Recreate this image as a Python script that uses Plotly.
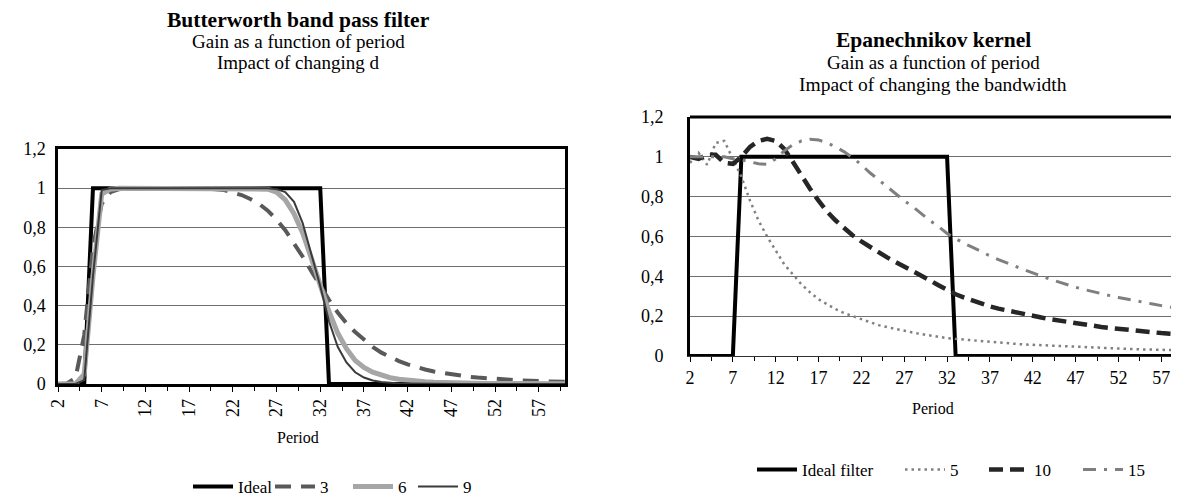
import plotly.graph_objects as go

# ---------------- data ----------------
periods = list(range(2, 61))
tick_periods = [2, 7, 12, 17, 22, 27, 32, 37, 42, 47, 52, 57]
y_ticks = [0, 0.2, 0.4, 0.6, 0.8, 1.0, 1.2]

# Butterworth band pass filter (left)
bw_ideal = [0, 0, 0, 0] + [1] * 27 + [0] * 28
bw_d3 = [0.0, 0.003, 0.03, 0.25, 0.7, 0.92, 0.98, 0.995, 1.0, 1.0,
         1.0, 1.0, 1.0, 1.0, 1.0, 1.0, 1.0, 1.0, 0.995, 0.99,
         0.98, 0.965, 0.945, 0.92, 0.885, 0.84, 0.785, 0.72, 0.65, 0.575,
         0.5, 0.43, 0.365, 0.31, 0.265, 0.225, 0.19, 0.16, 0.137, 0.117,
         0.1, 0.086, 0.074, 0.064, 0.056, 0.049, 0.043, 0.037, 0.033, 0.029,
         0.026, 0.023, 0.02, 0.018, 0.016, 0.014, 0.013, 0.012, 0.011]
bw_d6 = [0.0, 0.0, 0.0, 0.05, 0.55, 0.97, 0.995, 1.0, 1.0, 1.0,
         1.0, 1.0, 1.0, 1.0, 1.0, 1.0, 1.0, 1.0, 1.0, 1.0,
         1.0, 1.0, 1.0, 0.998, 0.995, 0.98, 0.94, 0.87, 0.77, 0.64,
         0.5, 0.37, 0.26, 0.18, 0.12, 0.085, 0.06, 0.043, 0.032, 0.024,
         0.018, 0.014, 0.011, 0.009, 0.007, 0.006, 0.005, 0.004, 0.0035, 0.003,
         0.0025, 0.002, 0.0018, 0.0015, 0.0013, 0.0011, 0.001, 0.001, 0.001]
bw_d9 = [0.0, 0.0, 0.0, 0.02, 0.55, 0.99, 1.0, 1.0, 1.0, 1.0,
         1.0, 1.0, 1.0, 1.0, 1.0, 1.0, 1.0, 1.0, 1.0, 1.0,
         1.0, 1.0, 1.0, 1.0, 1.0, 0.995, 0.98, 0.93, 0.82, 0.66,
         0.5, 0.32, 0.19, 0.11, 0.06, 0.033, 0.018, 0.01, 0.006, 0.003,
         0.002, 0.001, 0.001, 0.0, 0.0, 0.0, 0.0, 0.0, 0.0, 0.0,
         0.0, 0.0, 0.0, 0.0, 0.0, 0.0, 0.0, 0.0, 0.0]

# Epanechnikov kernel (right)
ep_ideal = [0] * 6 + [1] * 25 + [0] * 28
ep_bw5 = [0.97, 1.02, 0.96, 1.07, 1.08, 0.99, 0.9, 0.78, 0.68, 0.6,
          0.53, 0.46, 0.41, 0.36, 0.32, 0.285, 0.26, 0.235, 0.215, 0.2,
          0.185, 0.17, 0.155, 0.145, 0.135, 0.126, 0.118, 0.11, 0.103, 0.097,
          0.09, 0.086, 0.082, 0.078, 0.074, 0.07, 0.067, 0.064, 0.061, 0.058,
          0.056, 0.053, 0.051, 0.049, 0.047, 0.045, 0.043, 0.041, 0.04, 0.038,
          0.037, 0.035, 0.034, 0.033, 0.032, 0.031, 0.03, 0.029, 0.028]
ep_bw10 = [1.0, 0.99, 1.01, 1.01, 0.97, 0.965, 1.0, 1.05, 1.08, 1.09,
           1.08, 1.04, 0.975, 0.905, 0.84, 0.78, 0.725, 0.68, 0.64, 0.605,
           0.575, 0.547, 0.52, 0.495, 0.472, 0.45, 0.425, 0.403, 0.38, 0.355,
           0.332, 0.31, 0.293, 0.277, 0.262, 0.249, 0.238, 0.228, 0.218, 0.209,
           0.2, 0.193, 0.185, 0.178, 0.17, 0.163, 0.157, 0.151, 0.146, 0.141,
           0.136, 0.131, 0.127, 0.123, 0.119, 0.115, 0.112, 0.109, 0.106]
ep_bw15 = [1.0, 1.0, 1.0, 1.0, 1.0, 0.99, 0.985, 0.975, 0.965, 0.962,
           0.99, 1.03, 1.06, 1.08, 1.088, 1.085, 1.07, 1.05, 1.025, 0.995,
           0.96, 0.92, 0.885, 0.85, 0.815, 0.78, 0.75, 0.715, 0.68, 0.65,
           0.615, 0.59, 0.565, 0.545, 0.523, 0.503, 0.484, 0.466, 0.449, 0.433,
           0.417, 0.4, 0.386, 0.372, 0.358, 0.345, 0.334, 0.323, 0.313, 0.303,
           0.294, 0.285, 0.277, 0.269, 0.261, 0.253, 0.245, 0.238, 0.231]

# ---------------- figure ----------------
W, H = 1179, 498
FONT = "'Liberation Serif', 'Times New Roman', Times, serif"

def px(x):
    return x / W

def py(y):
    return 1 - y / H

LX0, LX1, LY0, LY1 = 50, 557, 141, 376
RX0, RX1, RY0, RY1 = 682, 1179, 109, 348

fig = go.Figure()

series = [
    # name, y values, axes, line, legend id, legend x, legend y
    ("Ideal", bw_ideal, "x", "y", dict(color="black", width=4), "legend", 180, 479),
    ("3", bw_d3, "x", "y", dict(color="#595959", width=4, dash="16px,10px"), "legend2", 262, 479),
    ("6", bw_d6, "x", "y", dict(color="#a6a6a6", width=5), "legend3", 340, 479),
    ("9", bw_d9, "x", "y", dict(color="#3a3a3a", width=2), "legend4", 405, 479),
    ("Ideal filter", ep_ideal, "x2", "y2", dict(color="black", width=4), "legend5", 744, 462),
    ("5", ep_bw5, "x2", "y2", dict(color="#808080", width=2.5, dash="2.5px,4px"), "legend6", 892, 462),
    ("10", ep_bw10, "x2", "y2", dict(color="#262626", width=4.5, dash="14px,7px"), "legend7", 976, 462),
    ("15", ep_bw15, "x2", "y2", dict(color="#7f7f7f", width=3, dash="13px,8px,3px,8px"), "legend8", 1070, 462),
]

legend_layouts = {}
for name, yv, xa, ya, line, lid, lx, ly in series:
    fig.add_trace(go.Scatter(x=periods, y=yv, name=name, mode="lines", line=line,
                             xaxis=xa, yaxis=ya, legend=lid))
    legend_layouts[lid] = dict(orientation="h", x=px(lx), y=py(ly), xanchor="left", yanchor="middle",
                               font=dict(family=FONT, size=17, color="black"),
                               bgcolor="rgba(0,0,0,0)", itemwidth=40, borderwidth=0)

tickfont = dict(family=FONT, size=18, color="black")
grid = "#6f6f6f"

fig.update_layout(
    width=W, height=H,
    margin=dict(l=0, r=0, t=0, b=0, autoexpand=False),
    paper_bgcolor="white", plot_bgcolor="white",
    separators=",.",
    font=dict(family=FONT, color="black", size=17),
    xaxis=dict(domain=[px(LX0), px(LX1)], anchor="y", range=[2, 60],
               tickmode="array", tickvals=tick_periods, tickangle=-90,
               ticks="outside", ticklen=5, tickcolor="black", tickfont=tickfont,
               minor=dict(tickmode="linear", tick0=2, dtick=2.5, ticks="outside", ticklen=4, tickcolor="black", showgrid=False),
               showgrid=False, zeroline=False, showline=True, linecolor="black", linewidth=2.5, mirror=True),
    yaxis=dict(domain=[py(LY1), py(LY0)], anchor="x", range=[0, 1.2],
               tickmode="array", tickvals=y_ticks, ticks="", tickfont=tickfont,
               showgrid=True, gridcolor=grid, gridwidth=1, zeroline=False,
               showline=True, linecolor="black", linewidth=2.5, mirror=True, ticklabelstandoff=6),
    xaxis2=dict(domain=[px(RX0), px(RX1)], anchor="y2", range=[2, 60],
                tickmode="array", tickvals=tick_periods, tickangle=0,
                ticks="outside", ticklen=5, tickcolor="black", tickfont=tickfont,
                minor=dict(tickmode="linear", tick0=2, dtick=2.5, ticks="outside", ticklen=4, tickcolor="black", showgrid=False),
                showgrid=False, zeroline=False, showline=True, linecolor="#303030", linewidth=1),
    yaxis2=dict(domain=[py(RY1), py(RY0)], anchor="x2", range=[0, 1.2],
                tickmode="array", tickvals=y_ticks, ticks="", tickfont=tickfont,
                showgrid=True, gridcolor=grid, gridwidth=1, zeroline=False,
                showline=True, linecolor="black", linewidth=3, ticklabelstandoff=20),
    showlegend=True,
    **legend_layouts,
)

# top border of right chart
fig.add_shape(type="line", xref="paper", yref="paper", x0=px(RX0), x1=1, y0=py(RY0), y1=py(RY0),
              line=dict(color="black", width=3))

ann = []
def text(x, y, s, size=19):
    ann.append(dict(x=px(x), y=py(y), xref="paper", yref="paper", text=s, showarrow=False,
                    xanchor="center", yanchor="middle", font=dict(family=FONT, size=size, color="black")))

text(290, 12, "<b>Butterworth band pass filter</b>", 21.5)
text(290, 33, "Gain as a function of period")
text(290, 54, "Impact of changing d")
text(290, 429, "Period", 16)

text(925, 32, "<b>Epanechnikov kernel</b>", 21.5)
text(925, 54, "Gain as a function of period")
text(925, 76, "Impact of changing the bandwidth", 19.5)
text(925, 400, "Period", 16)

fig.update_layout(annotations=ann)

fig.write_html("out.html")
